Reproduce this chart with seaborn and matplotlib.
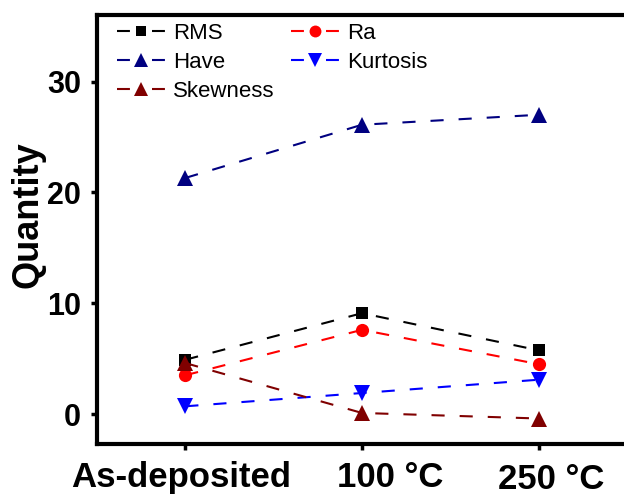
import matplotlib
matplotlib.use("Agg")
import matplotlib.pyplot as plt
import matplotlib.transforms as mtransforms
from matplotlib.lines import Line2D
import seaborn as sns
import pandas as pd

# Surface roughness parameters versus annealing condition
conditions = ["As-deposited", "100 °C", "250 °C"]
rms = [4.9, 9.1, 5.75]
ra = [3.5, 7.6, 4.5]
have = [21.3, 26.1, 27.0]
kurtosis = [0.7, 1.9, 3.1]
skewness = [4.6, 0.1, -0.4]

series_names = ["RMS", "Ra", "Have", "Kurtosis", "Skewness"]
series_values = [rms, ra, have, kurtosis, skewness]
colors = {"RMS": "#000000", "Ra": "#FF0000", "Have": "#000080",
          "Kurtosis": "#0000FF", "Skewness": "#800000"}
markers = {"RMS": "s", "Ra": "o", "Have": "^", "Kurtosis": "v", "Skewness": "^"}
msizes = {"RMS": 8.5, "Ra": 9.5, "Have": 11, "Kurtosis": 11, "Skewness": 11}

sns.set_theme(style="white")
plt.rcParams["font.family"] = ["Liberation Sans", "DejaVu Sans"]
plt.rcParams["text.color"] = "black"

fig = plt.figure(figsize=(6.24, 4.96), dpi=100)
ax = fig.add_axes([97 / 624, 1 - 444 / 496, 530 / 624, 429 / 496])

lw = 1.5
dash = (6.3, 7.2)
for name, vals in zip(series_names, series_values):
    df = pd.DataFrame({"cond": conditions, "val": vals})
    sns.lineplot(data=df, x="cond", y="val", ax=ax, color=colors[name],
                 marker=markers[name], markersize=msizes[name],
                 markeredgewidth=0, linewidth=lw, dashes=dash,
                 sort=False, legend=False)
    ax.lines[-1].set_dashes(dash)

ax.set_xlim(-0.5, 2.5)
ax.set_ylim(-2.7, 36)
ax.set_yticks([0, 10, 20, 30])
ax.set_xticks(range(len(conditions)))
ax.set_xticklabels(conditions)

ax.set_xlabel("")
ax.set_ylabel("Quantity", fontsize=26, fontweight="bold", color="black")
ax.yaxis.set_label_coords(-0.098, 0.535)

for side in ["left", "bottom", "top", "right"]:
    ax.spines[side].set_visible(True)
    ax.spines[side].set_linewidth(3)
    ax.spines[side].set_color("black")

ax.tick_params(axis="both", which="major", direction="out", length=4.5,
               width=2.5, color="black", labelcolor="black",
               left=True, bottom=True)
ax.tick_params(axis="y", pad=7, labelsize=22)
ax.tick_params(axis="x", pad=8, labelsize=25)
for lbl in ax.get_xticklabels() + ax.get_yticklabels():
    lbl.set_fontweight("bold")

# Nudge the category labels (points) to their printed positions
label_shift = [(-3, 0), (20, 0), (9, -1.5)]
for lbl, (dx, dy) in zip(ax.get_xticklabels(), label_shift):
    lbl.set_transform(lbl.get_transform() +
                      mtransforms.ScaledTranslation(dx / 72, dy / 72,
                                                    fig.dpi_scale_trans))

# Legend handles: dash - marker - dash
order = ["RMS", "Have", "Skewness", "Ra", "Kurtosis"]
handles = [Line2D([], [], color=colors[n], marker=markers[n],
                  markersize=msizes[n] * 0.9, markeredgewidth=0,
                  linewidth=lw, dashes=(6.2, 10.6)) for n in order]
ax.legend(handles, order, loc="upper left", bbox_to_anchor=(0.038, 0.981),
          ncol=2, frameon=False, fontsize=16, borderaxespad=0, borderpad=0,
          handlelength=2.15, handletextpad=0.36, columnspacing=0.75,
          labelspacing=0.35, labelcolor="black")

fig.savefig("out.png", dpi=100)
